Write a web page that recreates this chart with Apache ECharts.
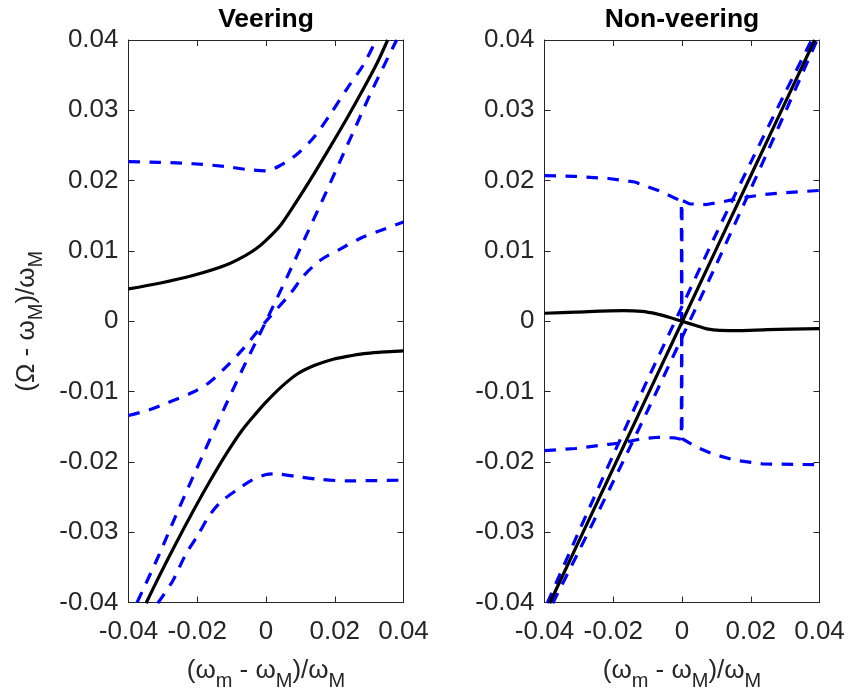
<!DOCTYPE html>
<html><head><meta charset="utf-8">
<script src="https://cdn.jsdelivr.net/npm/echarts@6.0.0/dist/echarts.min.js"></script>
<style>html,body{margin:0;padding:0;background:#fff}#c{width:848px;height:696px}</style>
</head><body><div id="c"></div>
<script>
// ---- axis ticks ----
const xTickValues = [-0.04, -0.02, 0, 0.02, 0.04];
const xTickLabels = ['-0.04', '-0.02', '0', '0.02', '0.04'];
const yTickValues = [-0.04, -0.03, -0.02, -0.01, 0, 0.01, 0.02, 0.03, 0.04];
const yTickLabels = ['-0.04', '-0.03', '-0.02', '-0.01', '0', '0.01', '0.02', '0.03', '0.04'];
const titles = ['Veering', 'Non-veering'];

// ---- Veering (left) ----
const vBlackUpX = [-0.04, -0.031, -0.0213, -0.0116, -0.0058, -0.0029, 0.0, 0.0043, 0.0091, 0.014, 0.0188, 0.0236, 0.0285, 0.0324, 0.0354];
const vBlackUpY = [0.0046, 0.0054, 0.0065, 0.0080, 0.0094, 0.0103, 0.0115, 0.0137, 0.0172, 0.0210, 0.0249, 0.0289, 0.0332, 0.0368, 0.0400];
const vBlackLoX = [-0.0349, -0.031, -0.0262, -0.0213, -0.0165, -0.0116, -0.0068, -0.0029, 0.0, 0.0043, 0.0091, 0.014, 0.0188, 0.0236, 0.0285, 0.0333, 0.04];
const vBlackLoY = [-0.0401, -0.0362, -0.0316, -0.0271, -0.0229, -0.0189, -0.0154, -0.0131, -0.0115, -0.0094, -0.0075, -0.0063, -0.0055, -0.0050, -0.0046, -0.0044, -0.0042];
const vDashAX = [-0.04, -0.031, -0.0213, -0.0116, -0.0058, 0.0, 0.0043, 0.0091, 0.014, 0.0188, 0.0236, 0.0285, 0.0320];
const vDashAY = [0.0227, 0.0226, 0.0224, 0.0220, 0.0216, 0.0214, 0.0222, 0.0238, 0.0262, 0.0295, 0.0331, 0.0366, 0.0400];
const vDashBX = [-0.04, -0.0339, -0.0281, -0.0213, -0.0165, -0.0116, -0.0068, 0.0, 0.0072, 0.011, 0.0159, 0.0217, 0.0275, 0.0333, 0.04];
const vDashBY = [-0.0134, -0.0126, -0.0115, -0.0101, -0.0087, -0.0065, -0.0040, 0.0, 0.0040, 0.0065, 0.0087, 0.0103, 0.0118, 0.0129, 0.0141];
const vDashCX = [-0.0375, -0.031, -0.0262, -0.0213, -0.0165, -0.0116, -0.0068, 0.0, 0.0068, 0.0116, 0.0165, 0.0213, 0.0262, 0.031, 0.0380];
const vDashCY = [-0.0400, -0.0331, -0.0276, -0.0222, -0.0170, -0.0118, -0.0068, 0.0, 0.0070, 0.0121, 0.0173, 0.0225, 0.0278, 0.0330, 0.0400];
const vDashDX = [-0.0315, -0.0271, -0.0233, -0.0199, -0.0167, -0.0134, -0.0085, -0.0041, 0.0, 0.0023, 0.0091, 0.0159, 0.0236, 0.04];
const vDashDY = [-0.0401, -0.0369, -0.0331, -0.0305, -0.0278, -0.0258, -0.0240, -0.0226, -0.0218, -0.0217, -0.0221, -0.0225, -0.0227, -0.0226];

// ---- Non-veering (right) ----
const nBlackFlatX = [-0.04, -0.031, -0.017, -0.0117, -0.0074, -0.004, 0.0, 0.004, 0.0072, 0.011, 0.015, 0.025, 0.04];
const nBlackFlatY = [0.00114, 0.0013, 0.0015, 0.0014, 0.00105, 0.0006, 0.0, -0.0006, -0.00108, -0.0013, -0.00132, -0.0012, -0.00105];
const nBlackSteepX = [-0.0385, -0.02, 0.0, 0.02, 0.0386];
const nBlackSteepY = [-0.0401, -0.0209, -0.0001, 0.0207, 0.0400];
const nDash1X = [-0.04, -0.031, -0.0214, -0.0137, -0.0069, -0.002, -0.0002, 0.0, 0.0042, 0.009, 0.0158, 0.0235, 0.04];
const nDash1Y = [0.0207, 0.0206, 0.0203, 0.0198, 0.0186, 0.0175, 0.0171, -0.0167, -0.0179, -0.0189, -0.0198, -0.0203, -0.0204];
const nDash2X = [-0.04, -0.031, -0.0214, -0.0175, -0.0117, -0.0069, -0.002, -0.0002, 0.0, 0.0022, 0.0071, 0.0119, 0.0168, 0.0235, 0.0303, 0.04];
const nDash2Y = [-0.0184, -0.0181, -0.0175, -0.0173, -0.0167, -0.0165, -0.0166, -0.0168, 0.0172, 0.0167, 0.0166, 0.0170, 0.0175, 0.0180, 0.0183, 0.0186];
const nDashLX = [-0.0392, -0.030, -0.020, -0.010, 0.0, 0.010, 0.020, 0.030, 0.0377];
const nDashLY = [-0.0401, -0.0299, -0.0190, -0.0083, 0.0021, 0.0125, 0.0226, 0.0325, 0.0400];
const nDashRX = [-0.0376, -0.030, -0.020, -0.010, 0.0, 0.010, 0.020, 0.030, 0.0393];
const nDashRY = [-0.0401, -0.0327, -0.0228, -0.0127, -0.0023, 0.0081, 0.0188, 0.0297, 0.0400];

const pairs = (xs, ys) => xs.map((x, i) => [x, ys[i]]);
const FONT = 'Liberation Sans, Arial, Helvetica, sans-serif';
const AX = '#262626';
const label = (vals, labs) => (v) => { let k = 0, b = 1e9; vals.forEach((t, i) => { const d = Math.abs(t - v); if (d < b) { b = d; k = i; } }); return labs[k]; };

const grids = [
  { left: 128.5, top: 40, width: 275, height: 562.5 },
  { left: 544.5, top: 40, width: 275, height: 562.5 }
];
const rich = {
  m: { fontSize: 26, lineHeight: 40, color: AX, fontFamily: FONT },
  s: { fontSize: 20, lineHeight: 18, verticalAlign: 'bottom', color: AX, fontFamily: FONT }
};
const xAxes = [], yAxes = [];
grids.forEach((g, gi) => {
  xAxes.push({
    type: 'value', gridIndex: gi, position: 'bottom', min: -0.04, max: 0.04, interval: 0.02,
    axisLine: { show: true, onZero: false, lineStyle: { color: AX, width: 1 } },
    axisTick: { show: true, inside: true, length: 6, lineStyle: { color: AX } },
    axisLabel: { color: AX, fontSize: 26, fontFamily: FONT, margin: 16, formatter: label(xTickValues, xTickLabels) },
    splitLine: { show: false },
    name: '{m|(ω}{s|m}{m| - ω}{s|M}{m|)/ω}{s|M}', nameLocation: 'middle', nameGap: 48.5,
    nameTextStyle: { rich: rich }
  });
  xAxes.push({
    type: 'value', gridIndex: gi, position: 'top', min: -0.04, max: 0.04, interval: 0.02,
    axisLine: { show: true, onZero: false, lineStyle: { color: AX, width: 1 } },
    axisTick: { show: true, inside: true, length: 6, lineStyle: { color: AX } },
    axisLabel: { show: false }, splitLine: { show: false }
  });
  const yl = {
    type: 'value', gridIndex: gi, position: 'left', min: -0.04, max: 0.04, interval: 0.01,
    axisLine: { show: true, onZero: false, lineStyle: { color: AX, width: 1 } },
    axisTick: { show: true, inside: true, length: 6, lineStyle: { color: AX } },
    axisLabel: { color: AX, fontSize: 26, fontFamily: FONT, margin: 10, formatter: label(yTickValues, yTickLabels) },
    splitLine: { show: false }
  };
  if (gi === 0) {
    yl.name = '{m|(Ω - ω}{s|M}{m|)/ω}{s|M}';
    yl.nameLocation = 'middle';
    yl.nameGap = 82;
    yl.nameRotate = 90;
    yl.nameTextStyle = { rich: rich };
  }
  yAxes.push(yl);
  yAxes.push({
    type: 'value', gridIndex: gi, position: 'right', min: -0.04, max: 0.04, interval: 0.01,
    axisLine: { show: true, onZero: false, lineStyle: { color: AX, width: 1 } },
    axisTick: { show: true, inside: true, length: 6, lineStyle: { color: AX } },
    axisLabel: { show: false }, splitLine: { show: false }
  });
});

const LW = 3.2;
const dash = (gi, xs, ys, smooth) => ({
  type: 'line', xAxisIndex: gi * 2, yAxisIndex: gi * 2, data: pairs(xs, ys), showSymbol: false, symbol: 'none',
  smooth: smooth, clip: true, z: 2, silent: true,
  lineStyle: { color: '#0000ff', width: LW, type: [11.5, 9.5] }
});
const solid = (gi, xs, ys, smooth) => ({
  type: 'line', xAxisIndex: gi * 2, yAxisIndex: gi * 2, data: pairs(xs, ys), showSymbol: false, symbol: 'none',
  smooth: smooth, clip: true, z: 3, silent: true,
  lineStyle: { color: '#000000', width: LW }
});

const series = [
  dash(0, vDashAX, vDashAY, 0.3),
  dash(0, vDashBX, vDashBY, 0.3),
  dash(0, vDashCX, vDashCY, 0.3),
  dash(0, vDashDX, vDashDY, 0.3),
  solid(0, vBlackUpX, vBlackUpY, 0.3),
  solid(0, vBlackLoX, vBlackLoY, 0.3),
  dash(1, nDash1X, nDash1Y, false),
  dash(1, nDash2X, nDash2Y, false),
  dash(1, nDashLX, nDashLY, 0.2),
  dash(1, nDashRX, nDashRY, 0.2),
  solid(1, nBlackFlatX, nBlackFlatY, 0.3),
  solid(1, nBlackSteepX, nBlackSteepY, 0.2)
];

const chart = echarts.init(document.getElementById('c'), null, { renderer: 'canvas' });
chart.setOption({
  animation: false,
  backgroundColor: '#ffffff',
  grid: grids,
  xAxis: xAxes,
  yAxis: yAxes,
  series: series,
  graphic: titles.map((t, i) => ({
    type: 'text', x: grids[i].left + grids[i].width / 2, y: 20,
    style: { text: t, textAlign: 'center', textVerticalAlign: 'middle', font: 'bold 26.5px ' + FONT, fill: '#000' }
  }))
});
</script></body></html>
